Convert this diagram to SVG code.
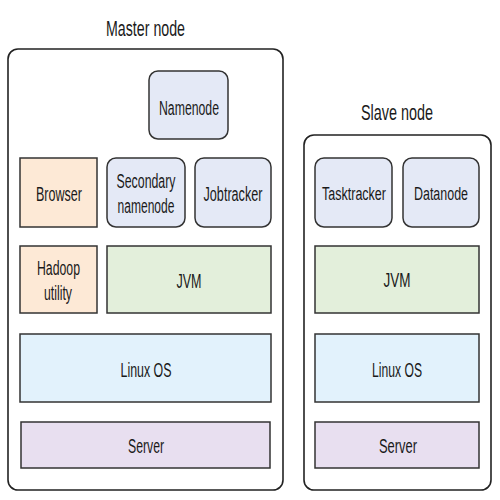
<svg xmlns="http://www.w3.org/2000/svg" width="500" height="500" viewBox="0 0 500 500">
<style>
text{font-family:"Liberation Sans",Arial,sans-serif;fill:#1a1a1a;text-anchor:middle}
.t{font-size:22px}
.l{font-size:20px}
.s{font-size:18px}
.outer{fill:#ffffff;stroke:#222;stroke-width:1.6}
.svc{fill:#e4e9f6;stroke:#333;stroke-width:1.5}
.app{fill:#fde9d6;stroke:#333;stroke-width:1.5}
.jvm{fill:#e3efdb;stroke:#333;stroke-width:1.5}
.os{fill:#e2f2fc;stroke:#333;stroke-width:1.5}
.srv{fill:#e8dff0;stroke:#333;stroke-width:1.5}
</style>
<rect width="500" height="500" fill="#ffffff"/>
<g id="master">
<rect class="outer" x="8" y="49" width="275" height="441" rx="10"/>
<text class="t" x="145.5" y="36" textLength="79" lengthAdjust="spacingAndGlyphs">Master node</text>
</g>
<g id="namenode">
<rect class="svc" x="149" y="71" width="79" height="68" rx="9"/>
<text class="l" x="189" y="115" textLength="60" lengthAdjust="spacingAndGlyphs">Namenode</text>
</g>
<g id="browser">
<rect class="app" x="20" y="158" width="77" height="69"/>
<text class="l" x="59" y="201" textLength="46" lengthAdjust="spacingAndGlyphs">Browser</text>
</g>
<g id="secondary">
<rect class="svc" x="107" y="158" width="78" height="69" rx="9"/>
<text class="l" x="146" y="188" textLength="59" lengthAdjust="spacingAndGlyphs">Secondary</text>
<text class="l" x="146" y="213" textLength="57" lengthAdjust="spacingAndGlyphs">namenode</text>
</g>
<g id="jobtracker">
<rect class="svc" x="195" y="158" width="76" height="69" rx="9"/>
<text class="l" x="233" y="201" textLength="59" lengthAdjust="spacingAndGlyphs">Jobtracker</text>
</g>
<g id="hadoop">
<rect class="app" x="20" y="246" width="77" height="67"/>
<text class="l" x="58.5" y="275" textLength="43" lengthAdjust="spacingAndGlyphs">Hadoop</text>
<text class="l" x="58" y="300" textLength="28" lengthAdjust="spacingAndGlyphs">utility</text>
</g>
<g id="jvm-master">
<rect class="jvm" x="107" y="246" width="164" height="67"/>
<text class="l" x="189" y="288" textLength="25" lengthAdjust="spacingAndGlyphs">JVM</text>
</g>
<g id="linux-master">
<rect class="os" x="20" y="334" width="251" height="68"/>
<text class="l" x="146" y="377" textLength="51" lengthAdjust="spacingAndGlyphs">Linux OS</text>
</g>
<g id="server-master">
<rect class="srv" x="21" y="422" width="249" height="46"/>
<text class="l" x="146" y="453" textLength="36" lengthAdjust="spacingAndGlyphs">Server</text>
</g>
<g id="slave">
<rect class="outer" x="304" y="135" width="187" height="355" rx="10"/>
<text class="t" x="397" y="120" textLength="72" lengthAdjust="spacingAndGlyphs">Slave node</text>
</g>
<g id="tasktracker">
<rect class="svc" x="315" y="158" width="77" height="69" rx="9"/>
<text class="s" x="354" y="200" textLength="64" lengthAdjust="spacingAndGlyphs">Tasktracker</text>
</g>
<g id="datanode">
<rect class="svc" x="403" y="158" width="76" height="69" rx="9"/>
<text class="s" x="441" y="200" textLength="54" lengthAdjust="spacingAndGlyphs">Datanode</text>
</g>
<g id="jvm-slave">
<rect class="jvm" x="315" y="246" width="164" height="67"/>
<text class="l" x="397" y="287" textLength="27" lengthAdjust="spacingAndGlyphs">JVM</text>
</g>
<g id="linux-slave">
<rect class="os" x="315" y="334" width="164" height="68"/>
<text class="l" x="397" y="377" textLength="50" lengthAdjust="spacingAndGlyphs">Linux OS</text>
</g>
<g id="server-slave">
<rect class="srv" x="315" y="422" width="164" height="46"/>
<text class="l" x="398" y="453" textLength="38" lengthAdjust="spacingAndGlyphs">Server</text>
</g>
<g id="connectors"></g>
</svg>
